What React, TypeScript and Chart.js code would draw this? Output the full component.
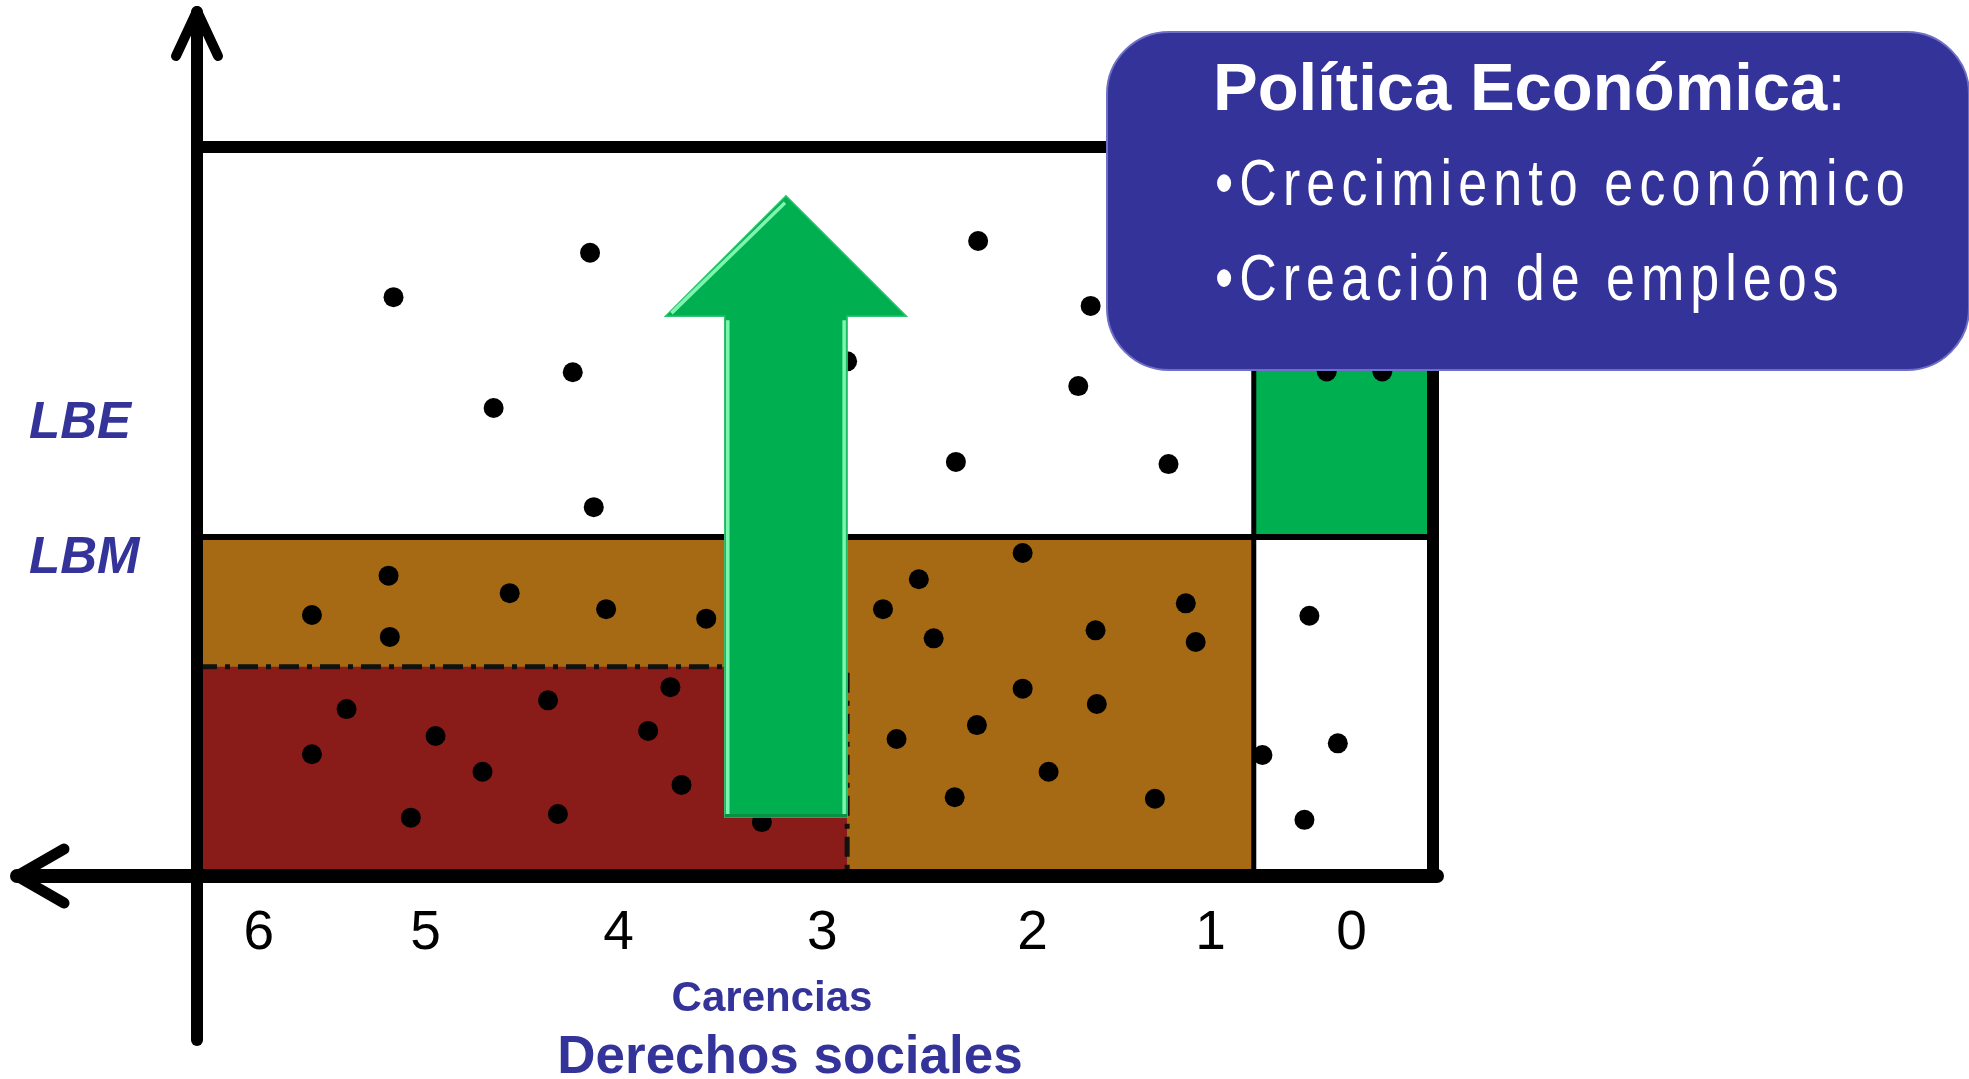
import React, { useEffect, useRef } from "react";
import { Chart, registerables } from "chart.js";

Chart.register(...registerables);

// ---- data (abstract units: x 0..10 along "Carencias" strip, y 0..10 "Ingreso") ----
const tickPositions = [0.5, 1.85, 3.41, 5.06, 6.76, 8.2, 9.34];
const tickLabels = ["6", "5", "4", "3", "2", "1", "0"];
const lineLabelValues = [6.2, 4.35];
const lineLabels = ["LBE", "LBM"];

const xMax = 10;
const yMax = 10;
const lbm = 4.65; // línea de bienestar mínimo
const extremaY = 2.87; // límite superior pobreza extrema
const extremaX = 5.26; // límite derecho pobreza extrema (3+ carencias)
const ceroX = 8.55; // frontera 0 carencias

const puntosArriba: [number, number][] = [
  [1.59, 7.94], [3.18, 8.55], [3.04, 6.91], [2.4, 6.42], [3.21, 5.06],
  [6.32, 8.71], [7.23, 7.82], [7.13, 6.72], [6.14, 5.68], [7.86, 5.65],
  [5.26, 7.06],
];
const puntosVerde: [number, number][] = [
  [9.14, 6.92], [9.59, 6.92],
];
const puntosModerada: [number, number][] = [
  [0.93, 3.58], [1.55, 4.12], [1.56, 3.28], [2.53, 3.88], [3.31, 3.66], [4.12, 3.53],
  [5.55, 3.66], [5.84, 4.07], [5.96, 3.26], [6.68, 4.43], [7.27, 3.37], [8.0, 3.74],
  [8.08, 3.21], [6.68, 2.57], [7.28, 2.36], [6.31, 2.07], [5.66, 1.88], [6.89, 1.43],
  [6.13, 1.08], [7.75, 1.06],
];
const puntosExtrema: [number, number][] = [
  [1.21, 2.29], [0.93, 1.67], [1.93, 1.92], [2.31, 1.43], [1.73, 0.8],
  [2.84, 2.41], [3.65, 1.99], [3.83, 2.59], [3.92, 1.25], [2.92, 0.85], [4.57, 0.74],
];
const puntosCero: [number, number][] = [
  [9.0, 3.57], [9.23, 1.82], [8.62, 1.66], [8.96, 0.77],
];

// arrow (annotation), in data units
const flecha = { xIzq: 4.27, xDer: 5.26, cabIzq: 3.79, cabDer: 5.74, punta: 9.33, base: 7.68, fondo: 0.81 };

const BLUE = "#333399";
const BROWN = "#A66A14";
const RED = "#891C19";
const GREEN = "#00B050";

const toPts = (a: [number, number][]) => a.map(([x, y]) => ({ x, y }));

const dotStyle = {
  type: "scatter" as const,
  backgroundColor: "#000",
  borderWidth: 0,
  pointRadius: 10,
  pointHoverRadius: 10,
  order: 0,
};
const lineBase = {
  type: "line" as const,
  pointRadius: 0,
  pointHoverRadius: 0,
  tension: 0,
  borderColor: "#000",
  fill: false,
};

// condensed text: horizontally squeezed glyphs with extra tracking
function condensed(ctx: CanvasRenderingContext2D, text: string, x: number, y: number, squeeze: number, sp: number) {
  let cx = x;
  for (const ch of Array.from(text)) {
    ctx.save();
    ctx.translate(cx, y);
    ctx.scale(squeeze, 1);
    ctx.fillText(ch, 0, 0);
    ctx.restore();
    cx += ctx.measureText(ch).width * squeeze + sp;
  }
}

const decor = {
  id: "decor",
  afterDatasetsDraw(chart: any) {
    const { ctx, scales } = chart;
    const xs = scales.x;
    const ys = scales.y;
    const px = (v: number) => xs.getPixelForValue(v);
    const py = (v: number) => ys.getPixelForValue(v);
    const x0 = px(0);
    const y0 = py(0);
    const xr = px(xMax);

    ctx.save();
    ctx.strokeStyle = "#000";
    ctx.lineCap = "round";
    ctx.lineJoin = "round";
    // vertical axis
    ctx.lineWidth = 12;
    ctx.beginPath();
    ctx.moveTo(x0, y0 + 164);
    ctx.lineTo(x0, 12);
    ctx.stroke();
    ctx.lineWidth = 10;
    ctx.beginPath();
    ctx.moveTo(x0 - 21, 56);
    ctx.lineTo(x0, 11);
    ctx.lineTo(x0 + 21, 56);
    ctx.stroke();
    // horizontal axis
    ctx.lineWidth = 14;
    ctx.beginPath();
    ctx.moveTo(17, y0);
    ctx.lineTo(xr + 4, y0);
    ctx.stroke();
    ctx.lineWidth = 11;
    ctx.beginPath();
    ctx.moveTo(64, y0 - 27);
    ctx.lineTo(17, y0);
    ctx.lineTo(64, y0 + 27);
    ctx.stroke();

    // green arrow
    const L = px(flecha.xIzq), R = px(flecha.xDer);
    const HL = px(flecha.cabIzq), HR = px(flecha.cabDer);
    const T = py(flecha.punta), B = py(flecha.base), F = py(flecha.fondo);
    const cx = (HL + HR) / 2;
    ctx.lineCap = "butt";
    ctx.lineJoin = "miter";
    ctx.beginPath();
    ctx.moveTo(cx, T);
    ctx.lineTo(HR, B);
    ctx.lineTo(R, B);
    ctx.lineTo(R, F);
    ctx.lineTo(L, F);
    ctx.lineTo(L, B);
    ctx.lineTo(HL, B);
    ctx.closePath();
    ctx.fillStyle = GREEN;
    ctx.fill();
    ctx.strokeStyle = "#2fc46f";
    ctx.lineWidth = 1.5;
    ctx.stroke();
    ctx.strokeStyle = "#7CF5B0";
    ctx.lineWidth = 3.5;
    ctx.beginPath();
    ctx.moveTo(L + 3, B + 4);
    ctx.lineTo(L + 3, F - 3);
    ctx.moveTo(R - 3, B + 4);
    ctx.lineTo(R - 3, F - 3);
    ctx.moveTo(HL + 6, B - 3);
    ctx.lineTo(cx - 1, T + 7);
    ctx.stroke();
    ctx.strokeStyle = "#0a8f45";
    ctx.lineWidth = 3;
    ctx.beginPath();
    ctx.moveTo(L, F - 1.5);
    ctx.lineTo(R, F - 1.5);
    ctx.stroke();
    ctx.restore();
  },
  afterDraw(chart: any) {
    const { ctx } = chart;
    ctx.save();
    // policy box
    ctx.beginPath();
    (ctx as any).roundRect(1107, 32, 862, 338, 62);
    ctx.fillStyle = BLUE;
    ctx.fill();
    ctx.strokeStyle = "#6f6fc6";
    ctx.lineWidth = 2;
    ctx.stroke();

    ctx.fillStyle = "#fff";
    ctx.textAlign = "left";
    ctx.textBaseline = "alphabetic";
    ctx.font = "bold 67px 'Liberation Sans', Arial, sans-serif";
    const t = "Política Económica";
    ctx.fillText(t, 1213, 110);
    const w = ctx.measureText(t).width;
    ctx.font = "67px 'Liberation Sans', Arial, sans-serif";
    ctx.fillText(":", 1213 + w, 110);
    ctx.font = "65px 'Liberation Sans', Arial, sans-serif";
    condensed(ctx, "•Crecimiento económico", 1215, 205, 0.8, 6.1);
    condensed(ctx, "•Creación de empleos", 1215, 300, 0.8, 6.0);

    // axis captions
    ctx.fillStyle = BLUE;
    ctx.textAlign = "center";
    ctx.font = "bold 42px 'Liberation Sans', Arial, sans-serif";
    ctx.fillText("Carencias", 772, 1011);
    ctx.font = "bold 53px 'Liberation Sans', Arial, sans-serif";
    ctx.fillText("Derechos sociales", 790, 1073);
    ctx.restore();
  },
};

export default function App() {
  const ref = useRef<HTMLCanvasElement>(null);
  useEffect(() => {
    if (!ref.current) return;
    const chart = new Chart(ref.current, {
      type: "scatter",
      data: {
        datasets: [
          { ...dotStyle, label: "Arriba de LBE", data: toPts(puntosArriba) },
          { ...dotStyle, label: "Sin carencias, ingreso alto", data: toPts(puntosVerde) },
          { ...dotStyle, label: "Pobreza moderada", data: toPts(puntosModerada) },
          { ...dotStyle, label: "Pobreza extrema", data: toPts(puntosExtrema) },
          { ...dotStyle, label: "Sin carencias, ingreso bajo", data: toPts(puntosCero) },
          {
            ...lineBase, label: "marco",
            data: [{ x: 0, y: yMax }, { x: xMax, y: yMax }, { x: xMax, y: 0 }],
            borderWidth: 12, borderJoinStyle: "round", clip: false, order: 1,
          },
          {
            ...lineBase, label: "LBM",
            data: [{ x: 0, y: lbm }, { x: xMax, y: lbm }],
            borderWidth: 6, clip: false, order: 1,
          },
          {
            ...lineBase, label: "frontera 0",
            data: [{ x: ceroX, y: 0 }, { x: ceroX, y: yMax }],
            borderWidth: 5, clip: false, order: 1,
          },
          {
            ...lineBase, label: "borde extrema",
            data: [{ x: 0, y: extremaY }, { x: extremaX, y: extremaY }, { x: extremaX, y: 0 }],
            borderWidth: 5, borderDash: [20, 8, 5, 8], borderColor: "#111", clip: false, order: 2,
          },
          {
            ...lineBase, label: "zona extrema",
            data: [{ x: 0, y: extremaY }, { x: extremaX, y: extremaY }],
            borderWidth: 0, fill: "origin", backgroundColor: RED, order: 3,
          },
          {
            ...lineBase, label: "zona moderada",
            data: [{ x: 0, y: lbm }, { x: ceroX, y: lbm }],
            borderWidth: 0, fill: "origin", backgroundColor: BROWN, order: 4,
          },
          {
            ...lineBase, label: "zona verde",
            data: [{ x: ceroX, y: yMax }, { x: xMax, y: yMax }],
            borderWidth: 0, fill: { value: lbm }, backgroundColor: GREEN, order: 4,
          },
        ] as any,
      },
      options: {
        animation: false,
        responsive: false,
        devicePixelRatio: 1,
        events: [],
        layout: { padding: { left: 29, right: 536, top: 147, bottom: 0 } },
        plugins: { legend: { display: false }, tooltip: { enabled: false }, title: { display: false } },
        scales: {
          x: {
            type: "linear",
            position: "bottom",
            min: 0,
            max: xMax,
            grid: { display: false, drawTicks: false },
            border: { display: false },
            afterBuildTicks: (s: any) => { s.ticks = tickPositions.map((v) => ({ value: v })); },
            afterFit: (s: any) => { s.height = 203; },
            ticks: {
              autoSkip: false,
              maxRotation: 0,
              minRotation: 0,
              padding: 25,
              color: "#000",
              font: { family: "'Liberation Sans', Arial, sans-serif", size: 55 },
              callback: (v: any) => tickLabels[tickPositions.indexOf(Number(v))] ?? "",
            },
          },
          y: {
            type: "linear",
            position: "left",
            min: 0,
            max: yMax,
            grid: { display: false, drawTicks: false },
            border: { display: false },
            afterBuildTicks: (s: any) => { s.ticks = lineLabelValues.map((v) => ({ value: v })); },
            afterFit: (s: any) => { s.width = 168; },
            ticks: {
              autoSkip: false,
              crossAlign: "far",
              padding: 0,
              color: BLUE,
              font: { family: "'Liberation Sans', Arial, sans-serif", size: 51, style: "italic", weight: "bold" },
              callback: (v: any) => lineLabels[lineLabelValues.indexOf(Number(v))] ?? "",
            },
          },
        },
      } as any,
      plugins: [decor],
    });
    return () => chart.destroy();
  }, []);

  return (
    <div style={{ position: "absolute", left: 0, top: 0, width: 1969, height: 1079, background: "#fff", overflow: "hidden" }}>
      <canvas ref={ref} width={1969} height={1079} style={{ display: "block", width: 1969, height: 1079 }} />
    </div>
  );
}
